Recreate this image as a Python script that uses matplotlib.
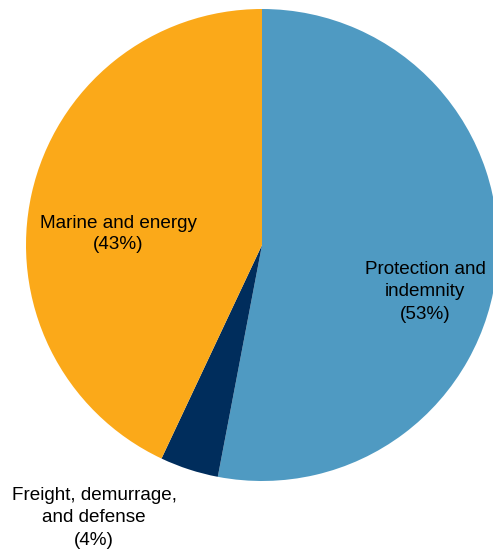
import matplotlib.pyplot as plt

labels = ['Protection and\nindemnity\n(53%)', 'Freight, demurrage,\nand defense\n(4%)', 'Marine and energy\n(43%)']
shares = [53, 4, 43]
colors = ['#4F9AC2', '#002D5C', '#FBA919']

plt.rcParams['font.family'] = ['Liberation Sans', 'DejaVu Sans']

fig = plt.figure(figsize=(4.93, 5.52), dpi=100)
ax = fig.add_axes([0, 0, 1, 1])

ax.pie(shares, colors=colors, startangle=90, counterclock=False,
       center=(262, 307), radius=236, frame=True,
       wedgeprops={'linewidth': 0})
ax.set_xlim(0, 493)
ax.set_ylim(0, 552)
ax.set_aspect('equal')
ax.axis('off')

# label positions (pixels, y from bottom) and line spacing
label_pos = [(425, 260), (94, 34), (118, 318)]
spacing = [1.4, 1.4, 1.27]
for lab, (x, y), ls in zip(labels, label_pos, spacing):
    ax.text(x, y, lab, ha='center', va='center', fontsize=13.6,
            linespacing=ls, color='black')

fig.savefig('out.png', dpi=100)
